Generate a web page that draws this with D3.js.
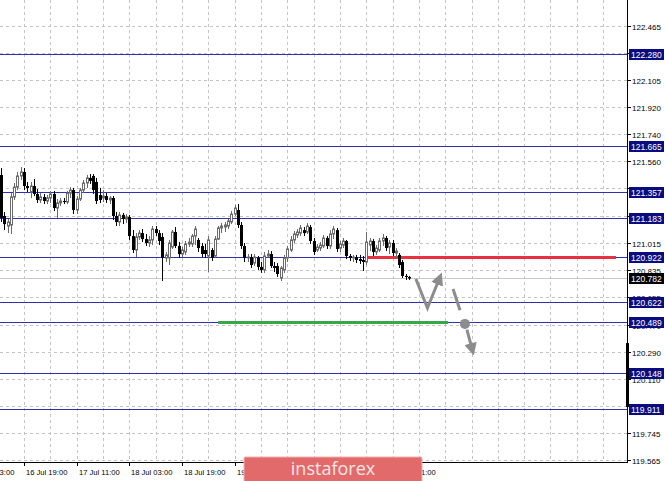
<!DOCTYPE html>
<html><head><meta charset="utf-8">
<script src="https://cdn.jsdelivr.net/npm/d3@7"></script>
<style>html,body{margin:0;padding:0;background:#fff;overflow:hidden}</style>
</head><body>
<svg id="c" width="665" height="481"></svg>
<script>
// OHLC bars (EUR/JPY H1), [open, high, low, close]
const candles = [
[121.473,121.519,121.159,121.186],[121.199,121.226,121.105,121.145],[121.132,121.179,121.085,121.159],[121.139,121.352,121.079,121.326],
[121.326,121.419,121.306,121.392],[121.392,121.493,121.372,121.466],[121.466,121.526,121.439,121.493],[121.493,121.519,121.372,121.399],
[121.399,121.426,121.359,121.386],[121.359,121.426,121.319,121.399],[121.399,121.446,121.332,121.346],[121.346,121.379,121.286,121.306],
[121.306,121.352,121.286,121.326],[121.326,121.346,121.279,121.299],[121.299,121.339,121.279,121.319],[121.319,121.366,121.286,121.346],
[121.346,121.366,121.232,121.252],[121.252,121.312,121.186,121.286],[121.286,121.319,121.266,121.299],[121.299,121.319,121.279,121.292],
[121.292,121.366,121.279,121.352],[121.352,121.392,121.319,121.372],[121.372,121.386,121.212,121.239],[121.239,121.332,121.212,121.312],
[121.312,121.386,121.299,121.372],[121.372,121.439,121.352,121.419],[121.419,121.473,121.386,121.453],[121.453,121.479,121.413,121.433],
[121.466,121.479,121.346,121.372],[121.426,121.453,121.279,121.299],[121.339,121.386,121.286,121.306],[121.319,121.372,121.292,121.332],
[121.332,121.352,121.286,121.306],[121.306,121.332,121.279,121.319],[121.319,121.332,121.172,121.199],[121.199,121.226,121.132,121.159],
[121.159,121.226,121.132,121.206],[121.206,121.219,121.145,121.179],[121.179,121.212,121.152,121.192],[121.192,121.206,121.039,121.065],
[121.065,121.105,120.952,120.972],[120.972,121.085,120.925,121.059],[121.059,121.105,121.039,121.085],[121.085,121.112,121.025,121.045],
[121.045,121.079,120.999,121.019],[121.019,121.065,120.992,121.039],[121.039,121.132,121.005,121.112],[121.112,121.132,121.065,121.085],
[121.085,121.105,121.005,121.032],[121.059,121.085,120.765,120.919],[120.919,120.959,120.892,120.939],[120.919,121.039,120.872,121.019],
[120.992,121.105,120.979,121.092],[121.092,121.125,120.985,120.999],[120.999,121.025,120.919,120.945],[120.945,120.992,120.925,120.972],
[120.959,121.032,120.939,121.012],[121.012,121.052,120.992,121.025],[121.012,121.079,120.992,121.065],[121.065,121.132,121.005,121.112],
[121.039,121.052,120.959,120.985],[120.999,121.019,120.925,120.945],[120.972,121.012,120.919,120.945],[120.932,121.065,120.825,121.039],
[120.972,120.985,120.899,120.919],[120.932,121.065,120.919,121.045],[121.045,121.132,121.039,121.119],[121.119,121.152,121.085,121.132],
[121.125,121.159,121.092,121.139],[121.132,121.179,121.112,121.166],[121.159,121.232,121.145,121.212],[121.212,121.272,121.199,121.252],
[121.239,121.279,121.119,121.139],[121.139,121.159,120.979,120.999],[120.999,121.019,120.892,120.919],[120.919,120.945,120.892,120.925],
[120.925,120.945,120.852,120.872],[120.885,120.945,120.865,120.925],[120.919,120.932,120.839,120.859],[120.859,120.892,120.819,120.839],
[120.839,120.959,120.819,120.932],[120.932,120.972,120.919,120.945],[120.945,120.965,120.852,120.865],[120.865,120.892,120.825,120.852],
[120.865,120.885,120.792,120.812],[120.785,120.865,120.765,120.852],[120.839,120.939,120.819,120.919],[120.919,120.999,120.892,120.979],
[120.972,121.065,120.959,121.039],[121.039,121.099,121.019,121.079],[121.072,121.112,121.052,121.092],[121.085,121.139,121.065,121.119],
[121.105,121.125,121.065,121.085],[121.092,121.152,121.079,121.132],[121.125,121.139,121.012,121.032],[121.032,121.052,120.939,120.959],
[120.972,121.012,120.959,120.992],[120.985,121.025,120.965,121.005],[120.999,121.072,120.985,121.052],[121.052,121.065,120.979,120.999],
[120.999,121.105,120.979,121.079],[121.079,121.132,121.045,121.112],[121.105,121.119,120.959,120.979],[120.985,121.032,120.959,121.012],
[121.005,121.052,120.985,121.032],[121.032,121.039,120.912,120.932],[120.932,120.945,120.899,120.919],[120.919,120.939,120.892,120.925],
[120.925,120.939,120.885,120.905],[120.912,120.939,120.879,120.899],[120.905,120.932,120.832,120.892],[120.892,121.092,120.872,121.025],
[121.005,121.052,120.965,121.032],[121.032,121.045,120.932,120.959],[120.959,121.005,120.939,120.985],[120.972,121.052,120.959,121.032],
[121.032,121.079,120.999,121.052],[121.052,121.065,120.965,120.985],[120.992,121.039,120.945,121.019],[121.019,121.039,120.932,120.952],
[120.952,120.985,120.919,120.965],[120.939,120.952,120.852,120.872],[120.892,120.905,120.785,120.799],[120.799,120.812,120.772,120.792],
[120.792,120.799,120.772,120.782]
];
const priceTicks = ["122.465","122.285","122.105","121.920","121.740","121.560","121.380","121.195","121.015","120.835","120.655","120.470","120.290","120.110","119.930","119.745","119.565"];
const levels = [122.280,121.665,121.357,121.183,120.922,120.622,120.489,120.148,119.911];
const currentPrice = 120.782;
// bar index where each time label sits
const timeTickIndex = [-9,7,23,39,55,71,87,103,119];
const timeTickLabels = ["16 Jul 03:00","16 Jul 19:00","17 Jul 11:00","18 Jul 03:00","18 Jul 19:00","19 Jul 11:00","22 Jul 03:00","22 Jul 19:00","23 Jul 11:00"];
// annotations in [bar index, price]
const resistance = {from:110.9, to:186.9, price:120.922};
const support = {from:66, to:135.9, price:120.489};
const arrowUp = [[126.1,120.779],[129.6,120.585],[133.4,120.790]];
const arrowDown1 = [[137.4,120.712],[139.5,120.570]];
const pivot = [141.0,120.479];
const arrowDown2 = [[141.6,120.440],[143.3,120.300]];
const rangeBar = [120.351,119.924];

const W=665,H=481, axisX=627, axisY=462;
const svg=d3.select("#c");
const x=d3.scaleLinear().domain([0,124]).range([1,409]);
const y=d3.scaleLinear().domain([119.911,122.280]).range([409,54]);
const py=v=>Math.floor(y(v))+0.5;

svg.append("rect").attr("width",W).attr("height",H).attr("fill","#fff");
const defs=svg.append("defs");
defs.append("clipPath").attr("id","plot").append("rect").attr("x",0).attr("y",0).attr("width",axisX).attr("height",axisY);
defs.append("marker").attr("id","ah").attr("viewBox","0 0 10 10").attr("refX",6).attr("refY",5)
  .attr("markerWidth",4.2).attr("markerHeight",4.2).attr("orient","auto")
  .append("path").attr("d","M0,0 L10,5 L0,10 z").attr("fill","#8c8c8c");

const plot=svg.append("g").attr("clip-path","url(#plot)");

// vertical grid
const vIdx=d3.range(-1,200,8);
plot.selectAll("line.vg").data(vIdx).join("line").attr("class","vg")
  .attr("x1",d=>Math.round(x(d))+0.5).attr("x2",d=>Math.round(x(d))+0.5).attr("y1",0).attr("y2",axisY)
  .attr("stroke","#c4c4c4").attr("stroke-dasharray","3,3");
// horizontal grid
plot.selectAll("line.hg").data(priceTicks).join("line").attr("class","hg")
  .attr("x1",0).attr("x2",axisX).attr("y1",d=>py(+d)).attr("y2",d=>py(+d))
  .attr("stroke","#c4c4c4").attr("stroke-dasharray","3,3");

// current price line
plot.append("line").attr("x1",0).attr("x2",axisX).attr("y1",py(currentPrice)).attr("y2",py(currentPrice))
  .attr("stroke","#c8c8c8");

// level lines
plot.selectAll("line.lv").data(levels).join("line").attr("class","lv")
  .attr("x1",0).attr("x2",axisX).attr("y1",d=>py(d)).attr("y2",d=>py(d))
  .attr("stroke","#3030b0").attr("stroke-width",1);

// support / resistance
plot.append("line").attr("x1",x(support.from)).attr("x2",x(support.to)).attr("y1",y(support.price)).attr("y2",y(support.price))
  .attr("stroke","#3aa64a").attr("stroke-width",3);
plot.append("line").attr("x1",x(resistance.from)).attr("x2",x(resistance.to)).attr("y1",y(resistance.price)).attr("y2",y(resistance.price))
  .attr("stroke","#e8303e").attr("stroke-width",3);

// candles
const cg=plot.append("g");
candles.forEach((c,i)=>{
  const [o,h,l,cl]=c; const bull=cl>=o; const cx=Math.round(x(i))+0.5;
  cg.append("line").attr("x1",cx).attr("x2",cx).attr("y1",y(h)).attr("y2",y(l))
    .attr("stroke",bull?"#6a6a6a":"#000").attr("stroke-width",1);
  const top=y(Math.max(o,cl)), bot=y(Math.min(o,cl));
  if(bull){
    cg.append("rect").attr("x",cx-1).attr("y",top).attr("width",2).attr("height",Math.max(bot-top,0.5))
      .attr("fill","#fff").attr("stroke","#6a6a6a").attr("stroke-width",1);
  } else {
    cg.append("rect").attr("x",cx-1.5).attr("y",top).attr("width",3).attr("height",Math.max(bot-top,1))
      .attr("fill","#000");
  }
});

// arrows
const ln=d3.line().x(d=>x(d[0])).y(d=>y(d[1]));
plot.append("path").attr("d",ln(arrowUp)).attr("fill","none").attr("stroke","#8c8c8c").attr("stroke-width",3)
  .attr("stroke-linejoin","miter").attr("marker-end","url(#ah)");
plot.append("path").attr("d",ln(arrowDown1)).attr("fill","none").attr("stroke","#8c8c8c").attr("stroke-width",3);
plot.append("circle").attr("cx",x(pivot[0])).attr("cy",y(pivot[1])).attr("r",5).attr("fill","#8c8c8c");
plot.append("path").attr("d",ln(arrowDown2)).attr("fill","none").attr("stroke","#8c8c8c").attr("stroke-width",3)
  .attr("marker-end","url(#ah)");

// axes lines
svg.append("line").attr("x1",axisX+0.5).attr("x2",axisX+0.5).attr("y1",0).attr("y2",axisY+1).attr("stroke","#000");
svg.append("line").attr("x1",0).attr("x2",axisX+1).attr("y1",axisY+0.5).attr("y2",axisY+0.5).attr("stroke","#000");
svg.append("rect").attr("x",axisX-1).attr("y",y(rangeBar[0])).attr("width",3).attr("height",y(rangeBar[1])-y(rangeBar[0])).attr("fill","#000");

// price ticks
const font="'Liberation Sans', Arial, sans-serif";
const pt=svg.append("g");
priceTicks.forEach(t=>{
  const yy=py(+t);
  pt.append("line").attr("x1",axisX).attr("x2",axisX+4).attr("y1",yy).attr("y2",yy).attr("stroke","#000");
  pt.append("text").attr("x",632).attr("y",yy+3).attr("font-family",font).attr("font-size","8px").attr("fill","#000").text(t);
});
// level boxes
levels.forEach(v=>{
  const yy=Math.floor(y(v));
  pt.append("rect").attr("x",629).attr("y",yy-5).attr("width",35).attr("height",11).attr("fill","#0b0b80");
  pt.append("text").attr("x",631).attr("y",yy+3.5).attr("font-family",font).attr("font-size","8.5px").attr("fill","#fff").text(v.toFixed(3));
});
{
  const yy=Math.floor(y(currentPrice));
  pt.append("rect").attr("x",629).attr("y",yy-5).attr("width",35).attr("height",11).attr("fill","#000");
  pt.append("text").attr("x",631).attr("y",yy+3.5).attr("font-family",font).attr("font-size","8.5px").attr("fill","#fff").text(currentPrice.toFixed(3));
}

// time ticks
const tg=svg.append("g");
timeTickIndex.forEach((ti,k)=>{
  const xx=Math.round(x(ti))+0.5;
  tg.append("line").attr("x1",xx).attr("x2",xx).attr("y1",axisY).attr("y2",axisY+4).attr("stroke","#000");
  tg.append("text").attr("x",xx+1.5).attr("y",475).attr("font-family",font).attr("font-size","7.6px").attr("fill","#000").text(timeTickLabels[k]);
});

// watermark
svg.append("rect").attr("x",244).attr("y",457).attr("width",178).attr("height",25).attr("rx",1)
  .attr("fill","#e26a6a").attr("stroke","#f0b0b0").attr("stroke-width",1);
svg.append("text").attr("x",333).attr("y",475).attr("text-anchor","middle").attr("font-family","'Open Sans', sans-serif")
  .attr("font-size","18px").attr("fill","#fbe6e6").text("instaforex");
</script>
</body></html>
